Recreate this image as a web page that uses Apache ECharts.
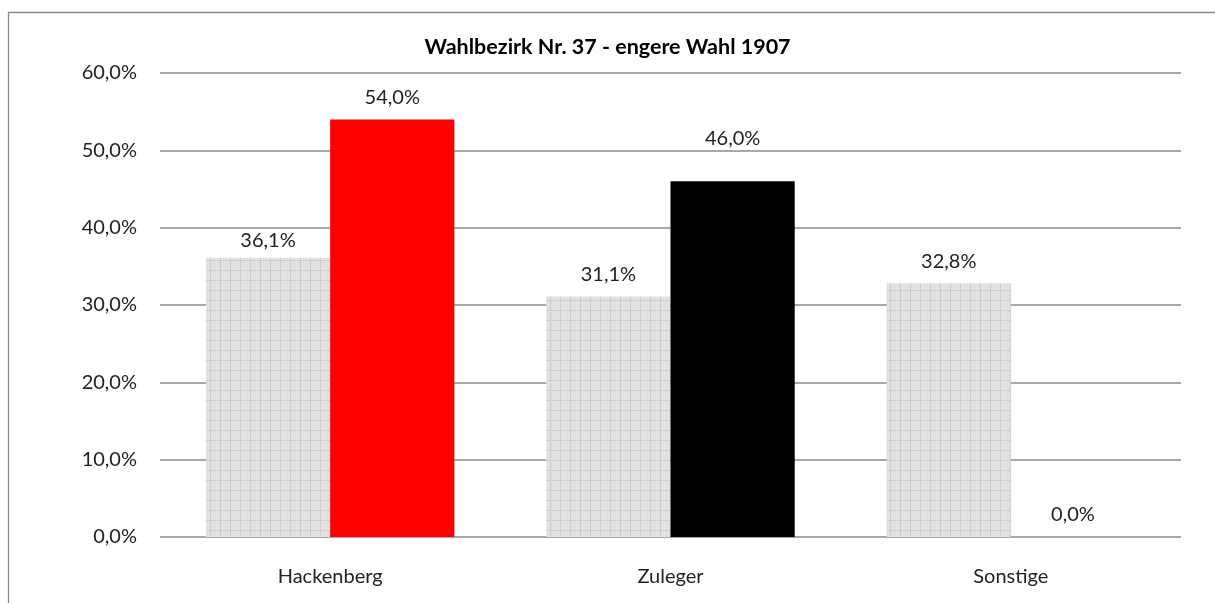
<!DOCTYPE html>
<html><head><meta charset="utf-8">
<script src="https://cdn.jsdelivr.net/npm/echarts@6/dist/echarts.min.js"></script>
<style>html,body{margin:0;padding:0;background:#fff}#c{width:1215px;height:603px}</style>
</head><body><div id="c"></div>
<script>
var title = 'Wahlbezirk Nr. 37 - engere Wahl 1907';
var categories = ['Hackenberg', 'Zuleger', 'Sonstige'];
var firstRound = [36.1, 31.1, 32.8];
var runoff = [54.0, 46.0, 0.0];
var runoffColors = ['#ff0000', '#000000', '#ff0000'];
var yTicks = [0, 10, 20, 30, 40, 50, 60];

function makePattern() {
  var c = document.createElement('canvas');
  c.width = 10; c.height = 10;
  var g = c.getContext('2d');
  g.fillStyle = '#dfdfdf'; g.fillRect(0, 0, 10, 10);
  g.fillStyle = '#e9e9e9';
  for (var i = 0; i < 10; i += 2) for (var j = (i/2)%2; j < 10; j += 2) g.fillRect(i, j, 1, 1);
  g.fillStyle = '#cdcdcd';
  g.fillRect(0, 0, 10, 1); g.fillRect(0, 0, 1, 10);
  return c;
}
function fmt(v) { return v.toFixed(1).replace('.', ',') + '%'; }

var font = 'Lato, "Open Sans", sans-serif';
var chart = echarts.init(document.getElementById('c'));
// manual label shifts (as in the reference) keyed by series and index
var labelShift = { runoff: [0, -21, 0], first: [5, 0, 0] };

chart.setOption({
  animation: false,
  title: { text: title, left: 'center', top: 31, textStyle: { fontFamily: font, fontWeight: 'bold', fontSize: 21.5, color: '#000' } },
  graphic: [{ type: 'rect', shape: { x: 8.5, y: 12.5, width: 1400, height: 800 }, style: { fill: 'none', stroke: '#8a8a8a', lineWidth: 1.3 }, silent: true }],
  grid: { left: 160, right: 34, top: 73, bottom: 66 },
  xAxis: {
    type: 'category', data: categories,
    axisLine: { show: false }, axisTick: { show: false },
    axisLabel: { fontFamily: font, fontSize: 20, color: '#222', margin: 30 }
  },
  yAxis: {
    type: 'value', min: yTicks[0], max: yTicks[yTicks.length - 1], interval: 10,
    axisLine: { show: false }, axisTick: { show: false },
    splitLine: { lineStyle: { color: '#8c8c8c', width: 1.6 } },
    axisLabel: { fontFamily: font, fontSize: 20, color: '#222', margin: 23, formatter: function (v) { return fmt(v); } }
  },
  series: [
    {
      type: 'bar', barGap: '0%', barCategoryGap: '27%',
      data: firstRound.map(function (v, i) { return { value: v, label: { offset: [0, labelShift.first[i]] } }; }),
      itemStyle: { color: { image: makePattern(), repeat: 'repeat' } },
      label: { show: true, position: 'top', distance: 12, fontFamily: font, fontSize: 20, color: '#222', formatter: function (p) { return fmt(p.value); } }
    },
    {
      type: 'bar',
      data: runoff.map(function (v, i) { return { value: v, itemStyle: { color: runoffColors[i] }, label: { offset: [0, labelShift.runoff[i]] } }; }),
      label: { show: true, position: 'top', distance: 12, fontFamily: font, fontSize: 20, color: '#222', formatter: function (p) { return fmt(p.value); } }
    }
  ]
});
</script></body></html>
